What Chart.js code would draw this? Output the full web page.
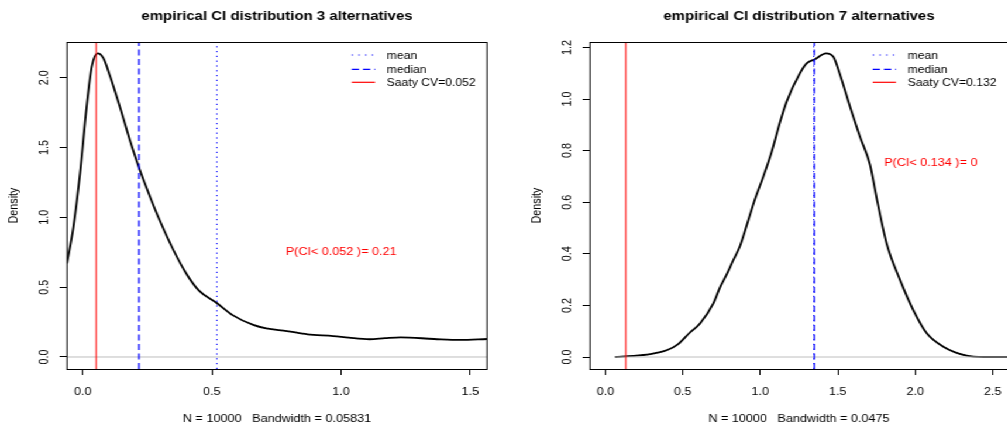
<!DOCTYPE html>
<html><head><meta charset="utf-8">
<script src="https://cdn.jsdelivr.net/npm/chart.js@4/dist/chart.umd.min.js"></script>
<style>
html,body{margin:0;padding:0;background:#fff;overflow:hidden;width:1007px;height:428px}
#wrap{position:absolute;left:0;top:0;width:864px;height:428px;transform:scaleX(1.17);transform-origin:0 0}
#c1{position:absolute;left:0;top:0}
#c2{position:absolute;left:427px;top:0}
</style></head>
<body>
<div id="wrap"><canvas id="c1" width="427" height="428"></canvas><canvas id="c2" width="437" height="428"></canvas></div>
<script>
// ---------- data ----------
const leftX = [-0.061, -0.036, -0.01, 0.015, 0.035, 0.058, 0.08, 0.106, 0.144, 0.183, 0.218, 0.26, 0.30, 0.35, 0.40, 0.45, 0.52, 0.58, 0.66, 0.71, 0.79, 0.87, 0.97, 1.03, 1.11, 1.17, 1.23, 1.36, 1.46, 1.565];
const leftY = [0.67, 0.93, 1.32, 1.79, 2.08, 2.175, 2.14, 2.01, 1.79, 1.55, 1.355, 1.15, 0.97, 0.77, 0.60, 0.475, 0.385, 0.30, 0.23, 0.205, 0.186, 0.162, 0.15, 0.138, 0.127, 0.135, 0.141, 0.129, 0.122, 0.129];
const rightX = [0.063, 0.18, 0.29, 0.33, 0.40, 0.47, 0.546, 0.611, 0.697, 0.74, 0.783, 0.826, 0.869, 0.923, 0.966, 1.019, 1.073, 1.127, 1.17, 1.256, 1.299, 1.353, 1.424, 1.471, 1.514, 1.579, 1.643, 1.708, 1.751, 1.815, 1.902, 1.987, 2.074, 2.181, 2.332, 2.44, 2.6];
const rightY = [0.0, 0.004, 0.011, 0.016, 0.027, 0.05, 0.095, 0.13, 0.208, 0.27, 0.32, 0.376, 0.43, 0.531, 0.612, 0.699, 0.795, 0.91, 0.99, 1.10, 1.138, 1.154, 1.177, 1.164, 1.095, 0.97, 0.854, 0.745, 0.615, 0.44, 0.298, 0.182, 0.092, 0.04, 0.005, 0.0, 0.0];

const leftXTicks = [0, 0.5, 1, 1.5];
const leftYTicks = [0, 0.5, 1, 1.5, 2];
const rightXTicks = [0, 0.5, 1, 1.5, 2, 2.5];
const rightYTicks = [0, 0.2, 0.4, 0.6, 0.8, 1.0, 1.2];

const leftXRange = [-0.0608, 1.5646];
const leftYRange = [-0.086, 2.256];
const rightXRange = [-0.099, 2.598];
const rightYRange = [-0.0465, 1.221];

// mean, median, Saaty CV
const leftRefLines = [0.519, 0.218, 0.052];
const rightRefLines = [1.345, 1.349, 0.132];
const leftZeroStart = -0.0608;
const rightZeroStart = 0.063;

const legendLeft = ['mean', 'median', 'Saaty CV=0.052'];
const legendRight = ['mean', 'median', 'Saaty CV=0.132'];
const titles = ['empirical CI distribution 3 alternatives', 'empirical CI distribution 7 alternatives'];
const subTitles = ['N = 10000   Bandwidth = 0.05831', 'N = 10000   Bandwidth = 0.0475'];
const annotTexts = ['P(CI< 0.052 )= 0.21', 'P(CI< 0.134 )= 0'];
const annotX = [1.0, 2.1];
const annotY = [0.75, 0.75];

// ---------- drawing ----------
const FONT = '"Liberation Sans", Arial, Helvetica, sans-serif';
const refColors = ['#0000ff', '#0000ff', '#ff0000'];
const refWidths = [1, 1.25, 1];
const refDash = [[1.2, 3.6], [6, 3.5], []];
const legendDash = [[1.2, 4.5], [6.2, 3.4], []];

function fmt(v) { return v.toFixed(1); }

function extrasPlugin(idx, legendLabels) {
  return {
    id: 'extras' + idx,
    afterDraw(chart) {
      const ctx = chart.ctx, a = chart.chartArea, xs = chart.scales.x, ys = chart.scales.y;
      ctx.save();
      ctx.setLineDash([]);
      ctx.strokeStyle = '#000'; ctx.lineWidth = 1;
      ctx.strokeRect(a.left, a.top + 0.5, a.right - a.left, a.bottom - a.top);
      ctx.fillStyle = '#000';
      ctx.font = '10.8px ' + FONT;
      ctx.textAlign = 'center'; ctx.textBaseline = 'alphabetic';
      xs.ticks.forEach(t => ctx.fillText(fmt(t.value), xs.getPixelForValue(t.value), 394.5));
      ys.ticks.forEach(t => {
        ctx.save();
        ctx.translate(a.left - 15.8, ys.getPixelForValue(t.value));
        ctx.rotate(-Math.PI / 2);
        ctx.fillText(fmt(t.value), 0, 0);
        ctx.restore();
      });
      // y title
      ctx.save();
      ctx.translate(a.left - 42.3, (a.top + a.bottom) / 2);
      ctx.rotate(-Math.PI / 2);
      ctx.fillText('Density', 0, 0);
      ctx.restore();
      // sub title
      const cx = (a.left + a.right) / 2;
      ctx.fillText(subTitles[idx], cx, 421.5);
      // main title
      ctx.font = 'bold 12.8px ' + FONT;
      ctx.fillText(titles[idx], cx, 19.5);
      // annotation
      ctx.font = '10.8px ' + FONT;
      ctx.fillStyle = '#ff0000';
      ctx.textBaseline = 'middle';
      ctx.fillText(annotTexts[idx], xs.getPixelForValue(annotX[idx]), ys.getPixelForValue(annotY[idx]));
      // legend
      const lx0 = a.right - 115.6, lx1 = a.right - 95.7, tx = a.right - 85.7;
      const rowsY = [55, 69.3, 82.3];
      ctx.textAlign = 'left'; ctx.textBaseline = 'alphabetic';
      ctx.font = '10.4px ' + FONT;
      legendLabels.forEach((lab, i) => {
        ctx.beginPath();
        ctx.strokeStyle = refColors[i];
        ctx.lineWidth = 1.2;
        ctx.setLineDash(legendDash[i]);
        ctx.moveTo(lx0, rowsY[i]); ctx.lineTo(lx1, rowsY[i]);
        ctx.stroke();
        ctx.fillStyle = '#000';
        ctx.fillText(lab, tx, rowsY[i] + 4);
      });
      ctx.restore();
    }
  };
}

function makeChart(canvasId, idx, xsArr, ysArr, xTicks, yTicks, xRange, yRange, refs, zeroStart, legendLabels, yWidth, padRight) {
  const curve = xsArr.map((x, i) => ({ x: x, y: ysArr[i] }));
  const refSets = refs.map((v, i) => ({
    data: [{ x: v, y: yRange[0] }, { x: v, y: yRange[1] }],
    borderColor: refColors[i], borderWidth: refWidths[i], borderDash: refDash[i],
    pointRadius: 0, tension: 0, order: 2 - i
  }));
  const datasets = refSets.concat([
    { data: [{ x: zeroStart, y: 0 }, { x: xRange[1], y: 0 }], borderColor: '#bebebe', borderWidth: 1, pointRadius: 0, tension: 0, order: 3 },
    { data: curve, borderColor: '#000', borderWidth: 1.8, pointRadius: 0, cubicInterpolationMode: 'monotone', borderJoinStyle: 'round', order: 4 }
  ]);
  new Chart(document.getElementById(canvasId), {
    type: 'line',
    data: { datasets: datasets },
    options: {
      responsive: false, animation: false, devicePixelRatio: 1,
      layout: { padding: { top: 42, right: padRight, left: 0, bottom: 0 } },
      plugins: { legend: { display: false }, tooltip: { enabled: false }, title: { display: false } },
      scales: {
        x: {
          type: 'linear', min: xRange[0], max: xRange[1],
          afterBuildTicks: s => { s.ticks = xTicks.map(v => ({ value: v })); },
          afterFit: s => { s.height = 59; },
          ticks: { display: false },
          grid: { display: true, drawOnChartArea: false, drawTicks: true, tickLength: 6, color: '#000', lineWidth: 1 },
          border: { display: false }
        },
        y: {
          type: 'linear', min: yRange[0], max: yRange[1],
          afterBuildTicks: s => { s.ticks = yTicks.map(v => ({ value: v })); },
          afterFit: s => { s.width = yWidth; },
          ticks: { display: false },
          grid: { display: true, drawOnChartArea: false, drawTicks: true, tickLength: 6.3, color: '#000', lineWidth: 1 },
          border: { display: false }
        }
      }
    },
    plugins: [extrasPlugin(idx, legendLabels)]
  });
}

makeChart('c1', 0, leftX, leftY, leftXTicks, leftYTicks, leftXRange, leftYRange, leftRefLines, leftZeroStart, legendLeft, 57.26, 10.76);
makeChart('c2', 1, rightX, rightY, rightXTicks, rightYTicks, rightXRange, rightYRange, rightRefLines, rightZeroStart, legendRight, 77.27, 2.5);
</script>
</body></html>
